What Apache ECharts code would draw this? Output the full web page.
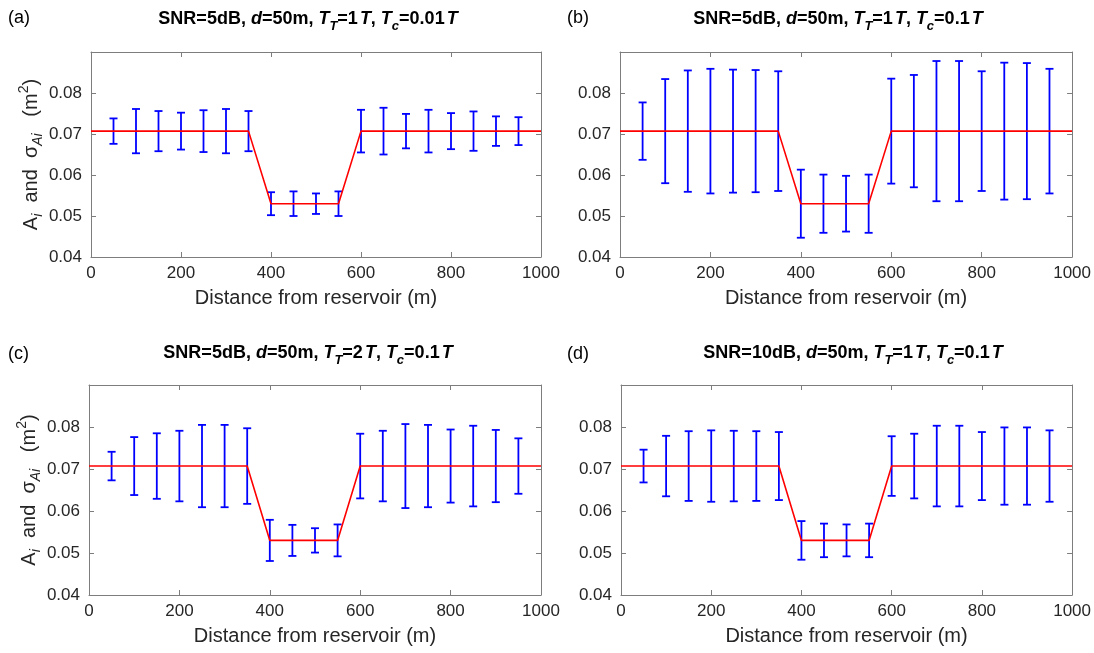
<!DOCTYPE html>
<html>
<head>
<meta charset="utf-8">
<script src="https://cdn.jsdelivr.net/npm/echarts@6/dist/echarts.min.js"></script>
<style>
html,body{margin:0;padding:0;background:#fff;}
#chart{width:1094px;height:653px;}
</style>
</head>
<body>
<div id="chart"></div>
<script>
// ---------- data ----------
const distances = [50,100,150,200,250,300,350,400,450,500,550,600,650,700,750,800,850,900,950];
const estA = [0.0707,0.0707,0.0707,0.0707,0.0707,0.0707,0.0707,0.053,0.053,0.053,0.053,0.0707,0.0707,0.0707,0.0707,0.0707,0.0707,0.0707,0.0707];
const profileX = [0,350,400,550,600,1000];
const profileA = [0.0707,0.0707,0.053,0.053,0.0707,0.0707];
const sigmaA = [0.0031,0.0054,0.0049,0.0045,0.0051,0.0054,0.0049,0.0028,0.0030,0.0025,0.0030,0.0052,0.0057,0.0042,0.0052,0.0044,0.0048,0.0036,0.0034];
const sigmaB = [0.0070,0.0127,0.0148,0.0152,0.0150,0.0149,0.0146,0.0083,0.0071,0.0068,0.0071,0.0128,0.0137,0.0171,0.0171,0.0146,0.0167,0.0166,0.0152];
const sigmaC = [0.0034,0.0069,0.0078,0.0084,0.0098,0.0098,0.0090,0.0049,0.0037,0.0029,0.0038,0.0077,0.0084,0.0100,0.0098,0.0087,0.0096,0.0086,0.0066];
const sigmaD = [0.0039,0.0072,0.0083,0.0085,0.0084,0.0083,0.0081,0.0046,0.0040,0.0038,0.0040,0.0071,0.0077,0.0096,0.0096,0.0081,0.0092,0.0092,0.0085];
const xTicks = {min:0, max:1000, interval:200};
const yTicks = {min:0.04, max:0.09, interval:0.01};
const panelLetters = ['(a)','(b)','(c)','(d)'];
const snrLabels = ['5dB','5dB','5dB','10dB'];
const ttLabels = ['1','1','2','1'];
const tcLabels = ['0.01','0.1','0.1','0.1'];
const xName = 'Distance from reservoir (m)';

// ---------- layout ----------
const FONT = '"Liberation Sans", Arial, sans-serif';
const grids = [
  {left:91, top:52, width:450, height:205},
  {left:620, top:52, width:454, height:205},
  {left:89, top:385, width:452, height:210},
  {left:621, top:385, width:452, height:210}
];
const titleCenters = [[308,19],[838,19],[308,353],[853,353]];
const letterPos = [[8,19],[567,19],[8,355],[567,355]];
const axisColor = '#7d7d7d';
const labelColor = '#262626';

const titleRich = {
  b:{fontFamily:FONT,fontWeight:'bold',fontSize:18,color:'#000',lineHeight:20},
  i:{fontFamily:FONT,fontWeight:'bold',fontStyle:'italic',fontSize:18,color:'#000',lineHeight:20},
  t:{fontFamily:FONT,fontWeight:'bold',fontStyle:'italic',fontSize:18,color:'#000',lineHeight:20,padding:[0,0,0,2]},
  s:{fontFamily:FONT,fontWeight:'bold',fontStyle:'italic',fontSize:13,color:'#000',lineHeight:12,padding:[15,0,0,0]}
};
const yNameRich = {
  n:{fontFamily:FONT,fontSize:20,color:labelColor,lineHeight:22},
  s:{fontFamily:FONT,fontStyle:'italic',fontSize:14,color:labelColor,lineHeight:12,padding:[14,0,0,0]},
  p:{fontFamily:FONT,fontSize:14,color:labelColor,lineHeight:12,padding:[0,0,14,0]}
};

const option = {
  backgroundColor:'#ffffff',
  animation:false,
  title:[],
  grid:[],
  xAxis:[],
  yAxis:[],
  series:[]
};

function errRender(params, api){
  const x = api.value(0), m = api.value(1), s = api.value(2);
  const top = api.coord([x, m + s]);
  const bot = api.coord([x, m - s]);
  const hw = 4;
  const style = {stroke:'#0000ff', lineWidth:1.8, fill:null};
  return {type:'group', children:[
    {type:'line', shape:{x1:top[0],y1:top[1],x2:bot[0],y2:bot[1]}, style:style},
    {type:'line', shape:{x1:top[0]-hw,y1:top[1],x2:top[0]+hw,y2:top[1]}, style:style},
    {type:'line', shape:{x1:bot[0]-hw,y1:bot[1],x2:bot[0]+hw,y2:bot[1]}, style:style}
  ]};
}

const sigmas = [sigmaA, sigmaB, sigmaC, sigmaD];
for (let k = 0; k < 4; k++) {
  const g = grids[k];
  option.grid.push({left:g.left, top:g.top, width:g.width, height:g.height, containLabel:false,
    show:false});
  const tx = '{b|SNR=' + snrLabels[k] + ', }{i|d}{b|=50m, }{i|T}{s|T}{b|=' + ttLabels[k] + '}{t|T}{b|, }{i|T}{s|c}{b|=' + tcLabels[k] + '}{t|T}';
  option.title.push({text:tx, left:titleCenters[k][0], top:titleCenters[k][1], textAlign:'center', textVerticalAlign:'middle',
    textStyle:{rich:titleRich}, padding:0});
  option.title.push({text:panelLetters[k], left:letterPos[k][0], top:letterPos[k][1]-10, padding:0,
    textStyle:{fontFamily:FONT,fontSize:18,fontWeight:'normal',color:'#000'}});

  const common = {
    axisLine:{show:true,onZero:false,lineStyle:{color:axisColor,width:1}},
    axisTick:{show:true,inside:true,length:5,lineStyle:{color:axisColor,width:1}},
    splitLine:{show:false}
  };
  // bottom x
  option.xAxis.push(Object.assign({}, common, {
    type:'value', gridIndex:k, position:'bottom', min:xTicks.min, max:xTicks.max, interval:xTicks.interval,
    axisLabel:{show:true, color:labelColor, fontFamily:FONT, fontSize:17, margin:8,
      formatter:function(v){return String(Math.round(v));}},
    name:xName, nameLocation:'middle', nameGap:31,
    nameTextStyle:{fontFamily:FONT, fontSize:20, color:labelColor}
  }));
  // top x (box)
  option.xAxis.push(Object.assign({}, common, {
    type:'value', gridIndex:k, position:'top', min:xTicks.min, max:xTicks.max, interval:xTicks.interval,
    axisLabel:{show:false}
  }));
  // left y
  const yl = Object.assign({}, common, {
    type:'value', gridIndex:k, position:'left', min:yTicks.min, max:yTicks.max, interval:yTicks.interval,
    axisLabel:{show:true, showMaxLabel:false, color:labelColor, fontFamily:FONT, fontSize:17, margin:9,
      formatter:function(v){return v.toFixed(2);}}
  });
  if (k === 0 || k === 2) {
    yl.name = '{n|A}{s|i}{n|  and  σ}{s|Ai}{n|   (m}{p|2}{n|)}';
    yl.nameLocation = 'middle';
    yl.nameRotate = 90;
    yl.nameGap = 47;
    yl.nameTextStyle = {rich:yNameRich};
  }
  option.yAxis.push(yl);
  // right y (box)
  option.yAxis.push(Object.assign({}, common, {
    type:'value', gridIndex:k, position:'right', min:yTicks.min, max:yTicks.max, interval:yTicks.interval,
    axisLabel:{show:false}
  }));

  const errData = distances.map((d, i) => [d, estA[i], sigmas[k][i]]);
  option.series.push({
    type:'custom', xAxisIndex:2*k, yAxisIndex:2*k, renderItem:errRender, data:errData, z:2,
    encode:{x:0, y:1}
  });
  option.series.push({
    type:'line', xAxisIndex:2*k, yAxisIndex:2*k, data:profileX.map((x, i) => [x, profileA[i]]),
    showSymbol:false, symbol:'none', lineStyle:{color:'#ff0000', width:1.6}, z:3
  });
}

const chart = echarts.init(document.getElementById('chart'), null, {renderer:'canvas'});
chart.setOption(option);
</script>
</body>
</html>
